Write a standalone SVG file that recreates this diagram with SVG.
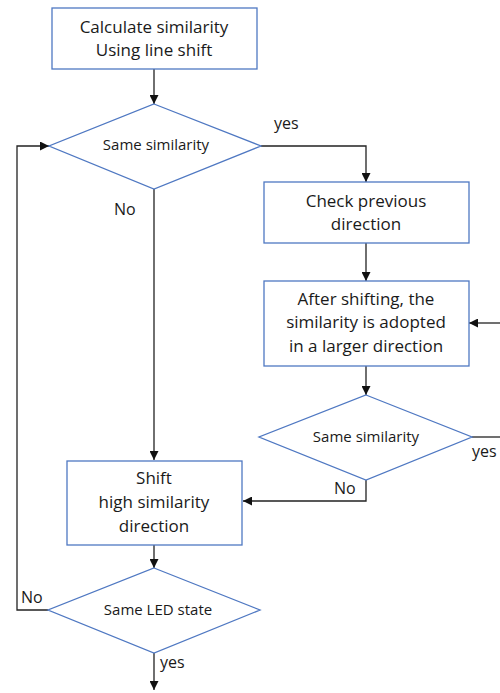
<svg xmlns="http://www.w3.org/2000/svg" width="500" height="693" viewBox="0 0 500 693">
<style>
.n{fill:#fff;stroke:#4F78C2;stroke-width:1.3}
.t{font-family:"Open Sans","Liberation Sans",sans-serif;font-size:17px;fill:#1a1a1a;text-anchor:middle}
.s{font-size:15px}
.l{font-family:"Open Sans","Liberation Sans",sans-serif;font-size:16px;fill:#1a1a1a}
.c{fill:none;stroke:#222;stroke-width:1.3}
</style>
<defs>
<marker id="a" viewBox="0 0 10 10" refX="10" refY="5" markerWidth="9" markerHeight="9" markerUnits="userSpaceOnUse" orient="auto">
<path d="M0,0L10,5L0,10z" fill="#111"/>
</marker>
</defs>
<rect width="500" height="693" fill="#fff"/>
<g id="connectors">
<path class="c" d="M154,69V104" marker-end="url(#a)"/>
<path class="c" d="M261,146H366V182" marker-end="url(#a)"/>
<path class="c" d="M366,243V281" marker-end="url(#a)"/>
<path class="c" d="M500,323H469" marker-end="url(#a)"/>
<path class="c" d="M366,366V395" marker-end="url(#a)"/>
<path class="c" d="M472,437H500"/>
<path class="c" d="M366,480V501H243" marker-end="url(#a)"/>
<path class="c" d="M154,189V460" marker-end="url(#a)"/>
<path class="c" d="M154,545V568" marker-end="url(#a)"/>
<path class="c" d="M48,610H17V146H49" marker-end="url(#a)"/>
<path class="c" d="M154,653V690" marker-end="url(#a)"/>
<text class="l" x="274" y="129">yes</text>
<text class="l" x="114" y="215">No</text>
<text class="l" x="472" y="457">yes</text>
<text class="l" x="334" y="494">No</text>
<text class="l" x="21" y="603">No</text>
<text class="l" x="160" y="668">yes</text>
</g>
<g id="calc">
<rect class="n" x="52" y="8" width="205" height="61"/>
<text class="t" x="154" y="33">Calculate similarity</text>
<text class="t" x="154" y="56">Using line shift</text>
</g>
<g id="same1">
<polygon class="n" points="154,104 261,146 154,189 49,146"/>
<text class="t s" x="156" y="150">Same similarity</text>
</g>
<g id="check">
<rect class="n" x="264" y="182" width="205" height="61"/>
<text class="t" x="366" y="207">Check previous</text>
<text class="t" x="366" y="230">direction</text>
</g>
<g id="after">
<rect class="n" x="264" y="281" width="205" height="85"/>
<text class="t" x="366" y="305">After shifting, the</text>
<text class="t" x="366" y="328">similarity is adopted</text>
<text class="t" x="366" y="352">in a larger direction</text>
</g>
<g id="same2">
<polygon class="n" points="366,395 472,437 366,480 259,437"/>
<text class="t s" x="366" y="442">Same similarity</text>
</g>
<g id="shift">
<rect class="n" x="67" y="461" width="175" height="84"/>
<text class="t" x="154" y="484">Shift</text>
<text class="t" x="154" y="508">high similarity</text>
<text class="t" x="154" y="532">direction</text>
</g>
<g id="led">
<polygon class="n" points="154,568 260,610 154,653 48,610"/>
<text class="t s" x="158" y="615">Same LED state</text>
</g>
</svg>
